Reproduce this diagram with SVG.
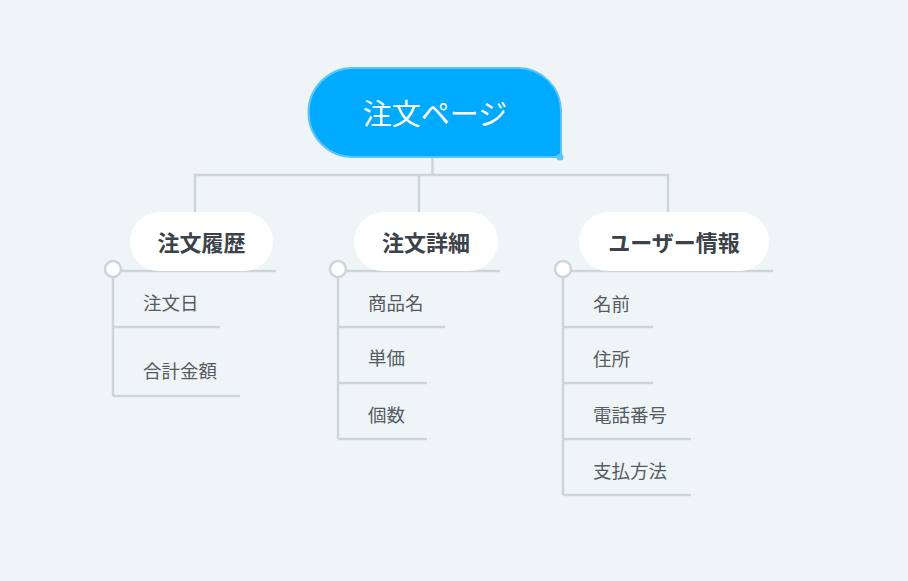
<svg xmlns="http://www.w3.org/2000/svg" width="908" height="581" viewBox="0 0 908 581">
<style>
.ln{stroke:#CED5DA;stroke-width:2.5;fill:none}
.pill{fill:#FFFFFF}
.nt{font-family:"Noto Sans CJK JP","Noto Sans",sans-serif;font-weight:bold;font-size:22px;fill:#3B4249;text-anchor:middle;dominant-baseline:central}
.ct{font-family:"Noto Sans CJK JP","Noto Sans",sans-serif;font-size:18.5px;fill:#555B61;dominant-baseline:central}
.dot{fill:#FFFFFF;stroke:#CED5DA;stroke-width:2.5}
</style>
<rect width="908" height="581" fill="#EFF4F7"/>
<g id="connectors">
<path class="ln" d="M432.5 158 V175 M195 212 V175 H668 V212 M419 175 V212"/>
<path class="ln" d="M113 269 V396 M113 327 H220 M113 396 H240 M120 271 H276"/>
<path class="ln" d="M338 269 V439 M338 327 H445 M338 383 H427 M338 439 H427 M345 271 H500"/>
<path class="ln" d="M563 269 V495 M563 327 H653 M563 383 H653 M563 439 H691 M563 495 H691 M570 271 H773"/>
</g>
<g id="root">
<path d="M353 68 H518 A43 43 0 0 1 561 111 V157 H353 A44.5 44.5 0 0 1 353 68 Z" fill="#00AAFF" stroke="#5CC4F7" stroke-width="2"/>
<circle cx="560" cy="157" r="3.5" fill="#5CC4F7"/>
<text x="435" y="112" font-family="'Noto Sans CJK JP','Noto Sans',sans-serif" font-size="29" fill="#FFFFFF" text-anchor="middle" dominant-baseline="central">注文ページ</text>
</g>
<g id="node-rireki">
<rect class="pill" x="130" y="212" width="143" height="59" rx="29.5"/>
<text class="nt" x="201.5" y="241">注文履歴</text>
<circle class="dot" cx="113" cy="269" r="8"/>
</g>
<g id="node-shosai">
<rect class="pill" x="354" y="212" width="144" height="59" rx="29.5"/>
<text class="nt" x="426" y="241">注文詳細</text>
<circle class="dot" cx="338" cy="269" r="8"/>
</g>
<g id="node-user">
<rect class="pill" x="579" y="212" width="190" height="59" rx="29.5"/>
<text class="nt" x="674" y="241">ユーザー情報</text>
<circle class="dot" cx="563" cy="269" r="8"/>
</g>
<g id="child-chumonbi"><text class="ct" x="143" y="302">注文日</text></g>
<g id="child-gokei"><text class="ct" x="143" y="370">合計金額</text></g>
<g id="child-shohinmei"><text class="ct" x="368" y="302">商品名</text></g>
<g id="child-tanka"><text class="ct" x="368" y="357">単価</text></g>
<g id="child-kosu"><text class="ct" x="368" y="414">個数</text></g>
<g id="child-namae"><text class="ct" x="593" y="303">名前</text></g>
<g id="child-jusho"><text class="ct" x="593" y="358">住所</text></g>
<g id="child-denwa"><text class="ct" x="593" y="414">電話番号</text></g>
<g id="child-shiharai"><text class="ct" x="593" y="470">支払方法</text></g>
</svg>
